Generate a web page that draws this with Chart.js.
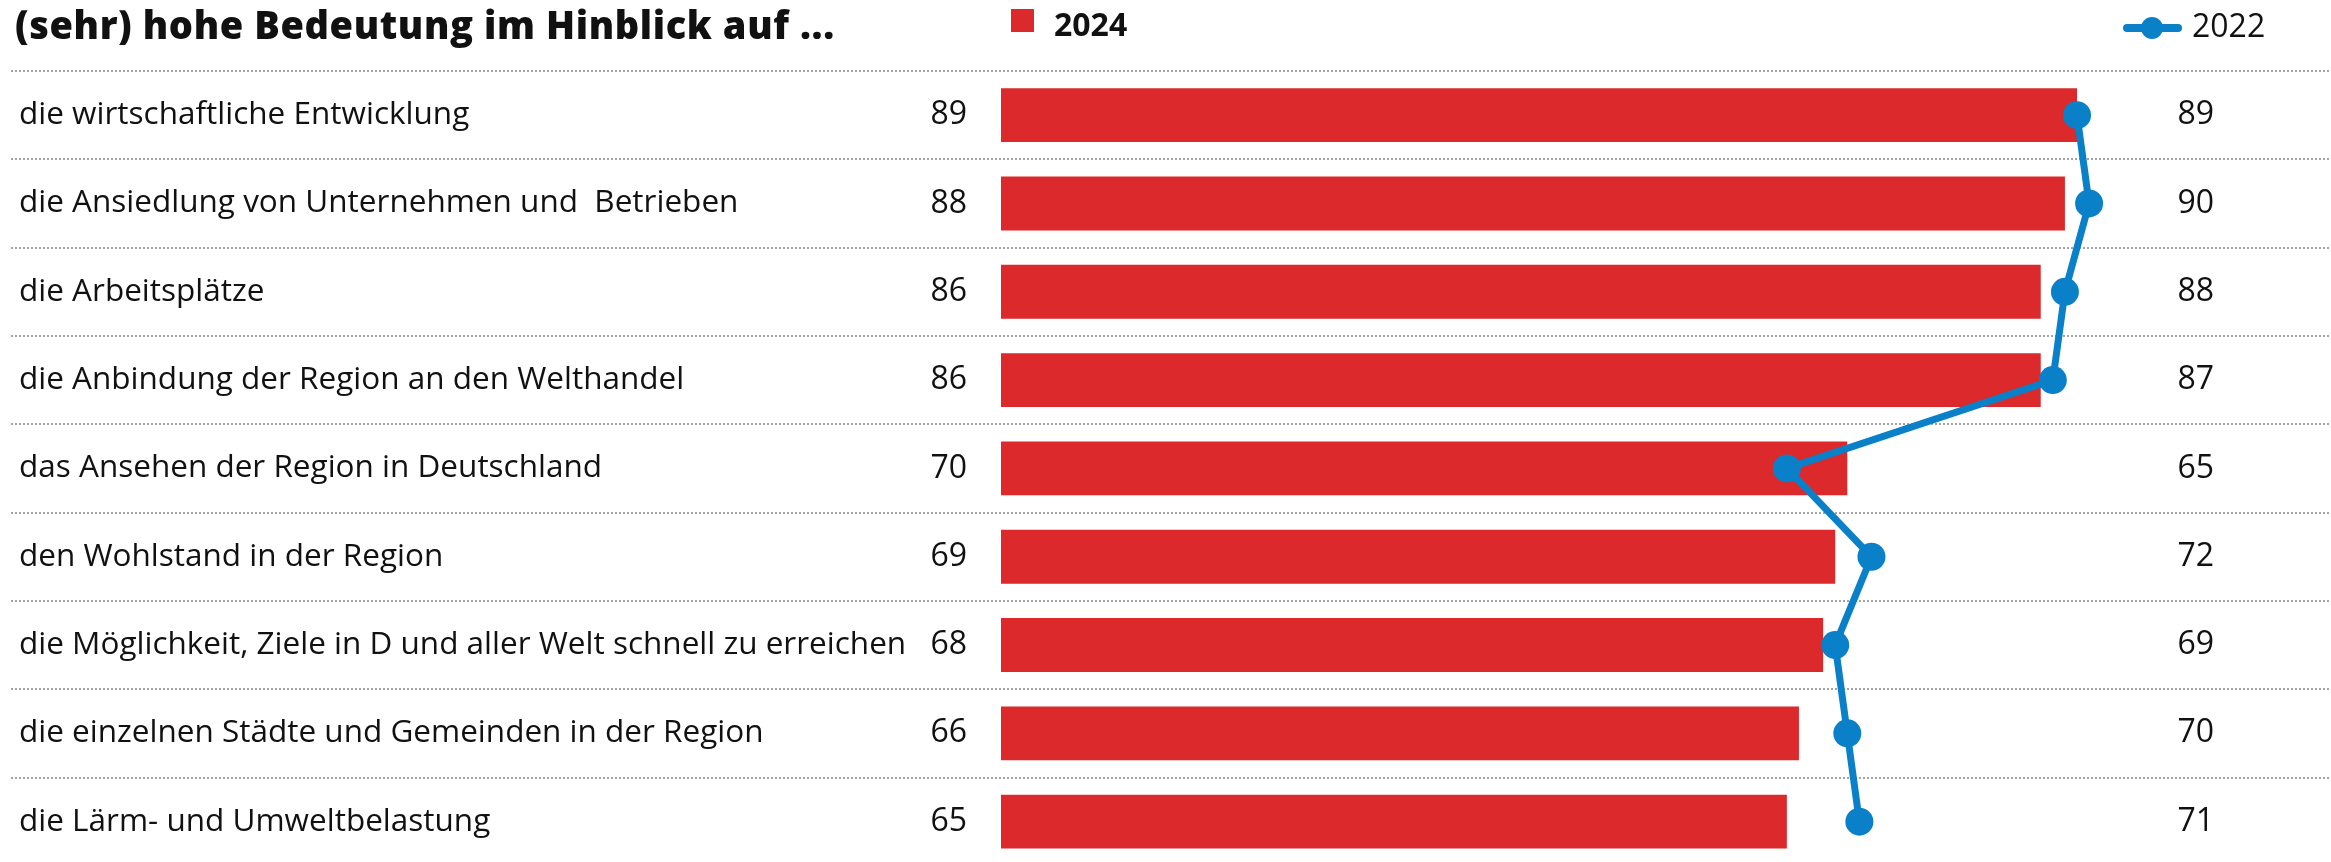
<!DOCTYPE html>
<html>
<head>
<meta charset="utf-8">
<script src="https://cdn.jsdelivr.net/npm/chart.js@4.4.1/dist/chart.umd.min.js"></script>
<style>
    html, body { margin: 0; padding: 0; overflow: hidden; background: #fff; }
    #wrap { position: relative; width: 2331px; height: 866px; }
    #chart { position: absolute; left: 0; top: 0; }
    .txt { position: absolute; color: #111; font-family: 'Open Sans', sans-serif; white-space: nowrap; }
    #title { left: 15px; top: 5px; font-size: 38px; line-height: 38px; font-weight: 800; letter-spacing: 0.6px; }
    #leg24-box { position: absolute; left: 1011px; top: 9px; width: 23px; height: 23px; background: #dc292b; }
    #leg24 { left: 1054px; top: 8px; font-size: 32px; line-height: 32px; font-weight: 700; }
    #leg22-line { position: absolute; left: 2123px; top: 24px; width: 59px; height: 8px; border-radius: 4px; background: #0a80c9; }
    #leg22-dot { position: absolute; left: 2141px; top: 17px; width: 22px; height: 22px; border-radius: 50%; background: #0a80c9; }
    #leg22 { left: 2192px; top: 9px; font-size: 32px; line-height: 32px; }
</style>
</head>
<body>
<div id="wrap">
    <canvas id="chart" width="2331" height="866"></canvas>
    <div id="title" class="txt">(sehr) hohe Bedeutung im Hinblick auf ...</div>
    <div id="leg24-box"></div>
    <div id="leg24" class="txt">2024</div>
    <div id="leg22-line"></div>
    <div id="leg22-dot"></div>
    <div id="leg22" class="txt">2022</div>
</div>
<script>
// Data
const categories = [
    'die wirtschaftliche Entwicklung',
    'die Ansiedlung von Unternehmen und  Betrieben',
    'die Arbeitsplätze',
    'die Anbindung der Region an den Welthandel',
    'das Ansehen der Region in Deutschland',
    'den Wohlstand in der Region',
    'die Möglichkeit, Ziele in D und aller Welt schnell zu erreichen',
    'die einzelnen Städte und Gemeinden in der Region',
    'die Lärm- und Umweltbelastung'
];
const values2024 = [89, 88, 86, 86, 70, 69, 68, 66, 65];
const values2022 = [89, 90, 88, 87, 65, 72, 69, 70, 71];

const RED = '#dc292b';
const BLUE = '#0a80c9';
const FONT = "'Open Sans', sans-serif";

// Separators and the value columns
const rowDecor = {
    id: 'rowDecor',
    beforeDatasetsDraw(chart) {
        const ctx = chart.ctx;
        const y = chart.scales.y;
        const half = (y.getPixelForValue(1) - y.getPixelForValue(0)) / 2;
        ctx.save();
        ctx.strokeStyle = '#a3a3a3';
        ctx.lineWidth = 2;
        ctx.setLineDash([2, 2]);
        categories.forEach((c, i) => {
            const py = Math.round(y.getPixelForValue(i) - half);
            ctx.beginPath();
            ctx.moveTo(11, py);
            ctx.lineTo(chart.width, py);
            ctx.stroke();
        });
        ctx.restore();
    },
    afterDraw(chart) {
        const ctx = chart.ctx;
        const y = chart.scales.y;
        ctx.save();
        ctx.fillStyle = '#111';
        ctx.font = '32px ' + FONT;
        ctx.textBaseline = 'middle';
        ctx.textAlign = 'right';
        categories.forEach((c, i) => {
            const py = y.getPixelForValue(i);
            ctx.fillText(values2024[i], chart.chartArea.left - 34, py);
            ctx.fillText(values2022[i], 2214, py);
        });
        ctx.restore();
    }
};

const ctx = document.getElementById('chart').getContext('2d');
new Chart(ctx, {
    data: {
        labels: categories,
        datasets: [{
            type: 'line',
            label: '2022',
            data: values2022,
            indexAxis: 'y',
            borderColor: BLUE,
            borderWidth: 7,
            pointRadius: 14,
            pointBackgroundColor: BLUE,
            pointBorderWidth: 0,
            tension: 0,
            order: 0
        }, {
            type: 'bar',
            label: '2024',
            data: values2024,
            indexAxis: 'y',
            backgroundColor: RED,
            barPercentage: 0.61,
            categoryPercentage: 1,
            order: 1
        }]
    },
    options: {
        indexAxis: 'y',
        responsive: false,
        animation: false,
        layout: { autoPadding: false, padding: { top: 71, left: 19, right: 121, bottom: 0 } },
        plugins: {
            legend: { display: false },
            tooltip: { enabled: false }
        },
        scales: {
            x: { min: 0, max: 100, display: false },
            y: {
                grid: { display: false },
                border: { display: false },
                ticks: {
                    crossAlign: 'far',
                    padding: 0,
                    color: '#111',
                    // tiny lineHeight so the axis adds no padding below the last row
                    font: { family: FONT, size: 31.5, lineHeight: 0.01 }
                },
                afterFit: (s) => { s.width = 982; }
            }
        }
    },
    plugins: [rowDecor]
});
</script>
</body>
</html>
